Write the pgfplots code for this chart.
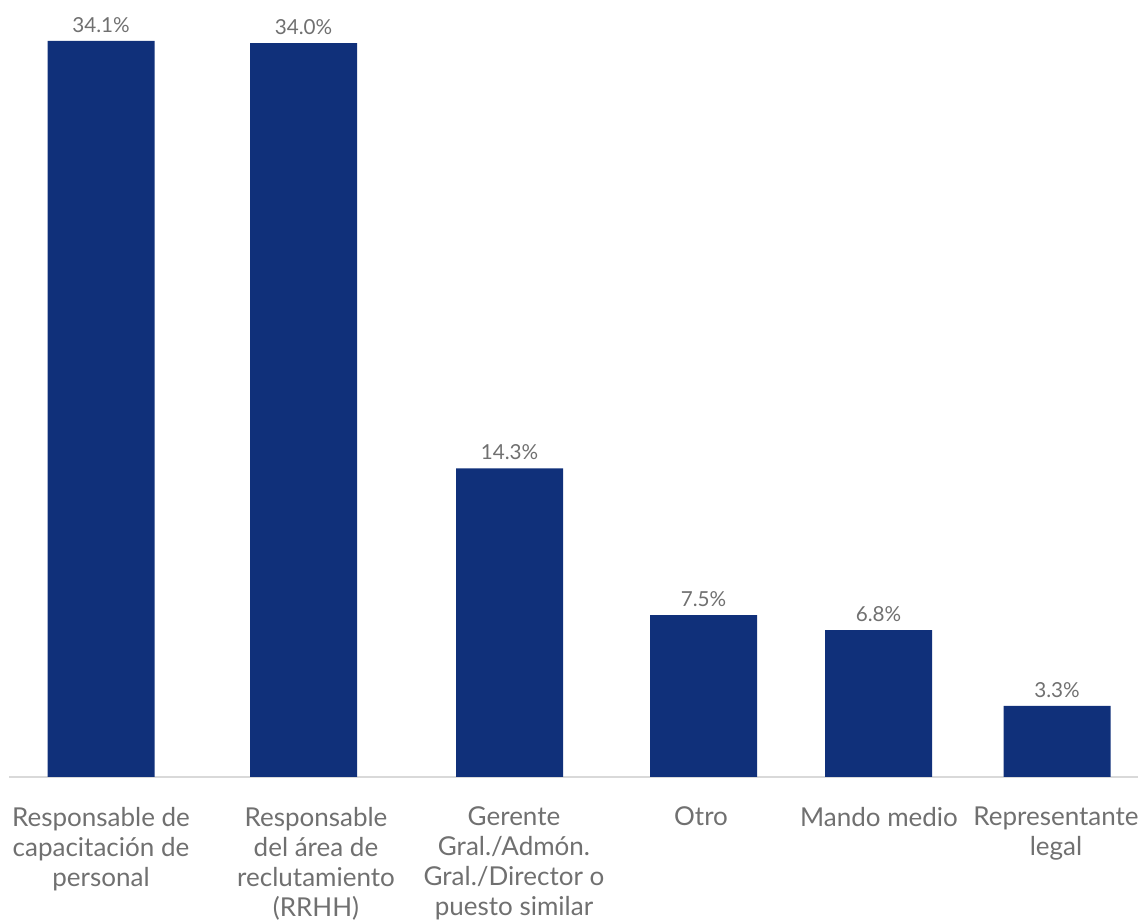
\documentclass[border=0pt]{standalone}
\usepackage{pgfplots}
\pgfplotsset{compat=1.18}
\usepackage{fontspec}
\setmainfont{Lato}
\definecolor{barblue}{HTML}{10307A}
\definecolor{labgray}{HTML}{707070}
\definecolor{axgray}{HTML}{D9D9D9}
\begin{document}
\begin{tikzpicture}[x=0.75pt,y=0.75pt]
\begin{axis}[
    scale only axis,
    width=846.75pt,
    height=582.75pt,
    xmin=9, xmax=1138,
    ymin=0, ymax=36.0,
    axis x line=bottom,
    axis y line=none,
    x axis line style={axgray, line width=0.8pt, -},
    ytick=\empty,
    xtick={101,316,514,701,879,1056},
    xticklabels={Responsable de\\capacitación de\\personal,
                 Responsable\\del área de\\reclutamiento\\(RRHH),
                 Gerente\\Gral./Admón.\\Gral./Director o\\puesto similar,
                 Otro, Mando medio, Representante\\legal},
    major tick length=0pt,
    xticklabel style={align=center, font=\fontsize{19.5}{22.5}\selectfont, text=labgray, anchor=north, yshift=-19pt},
    ybar,
    bar width=107,
    /pgf/number format/assume math mode=true,
    nodes near coords={\pgfmathprintnumber[fixed,fixed zerofill,precision=1]{\pgfplotspointmeta}\%},
    nodes near coords style={font=\fontsize{15.5}{18}\selectfont, text=labgray, inner sep=6pt},
    clip=false,
]
\addplot[fill=barblue, draw=none] coordinates {
    (101,34.1) (303.5,34.0) (509.5,14.3) (703.5,7.5) (878.5,6.8) (1057,3.3)
};
\coordinate (bl) at (axis cs:0,-6.63);
\coordinate (tr) at (axis cs:1138,36.0);
\end{axis}
\pgfresetboundingbox
\path[use as bounding box] (bl) rectangle (tr);
\end{tikzpicture}
\end{document}
